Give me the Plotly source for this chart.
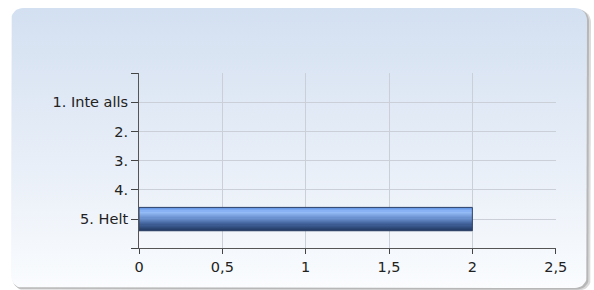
import numpy as np
import plotly.graph_objects as go

# ---- data ----
categories = ["1. Inte alls", "2.", "3.", "4.", "5. Helt"]
values = [0, 0, 0, 0, 2]
x_ticks = [0, 0.5, 1, 1.5, 2, 2.5]

W, H = 594, 290
PL, PR, PT, PB = 139, 555.7, 73, 248.3  # plot area in px

positions = list(range(1, len(categories) + 1))
outline_values = [v if v else None for v in values]


def rounded_rect(x0, y0, x1, y1, r, n=10):
    xs, ys = [], []
    corners = [(x1 - r, y0 + r, -90, 0), (x1 - r, y1 - r, 0, 90),
               (x0 + r, y1 - r, 90, 180), (x0 + r, y0 + r, 180, 270)]
    for cx, cy, a0, a1 in corners:
        for a in np.linspace(np.radians(a0), np.radians(a1), n):
            xs.append(cx + r * np.cos(a))
            ys.append(cy + r * np.sin(a))
    xs.append(xs[0]); ys.append(ys[0])
    return xs, ys


fig = go.Figure()

# shadow
sx, sy = rounded_rect(13, 10, 591, 290.5, 12)
fig.add_trace(go.Scatter(x=sx, y=sy, fill="toself", mode="lines",
                         line=dict(width=0), fillcolor="rgba(150,150,150,0.35)",
                         hoverinfo="skip", showlegend=False, xaxis="x", yaxis="y"))
sx, sy = rounded_rect(12, 9, 589, 289.5, 12)
fig.add_trace(go.Scatter(x=sx, y=sy, fill="toself", mode="lines",
                         line=dict(width=0), fillcolor="rgba(140,140,140,0.45)",
                         hoverinfo="skip", showlegend=False, xaxis="x", yaxis="y"))
# panel with gradient
px, py = rounded_rect(11, 8, 587, 288, 12)
fig.add_trace(go.Scatter(x=px, y=py, fill="toself", mode="lines",
                         line=dict(width=0),
                         fillgradient=dict(type="vertical",
                                           colorscale=[[0, "#fafcfe"], [0.5, "#e6edf7"], [1, "#d3e0f1"]]),
                         hoverinfo="skip", showlegend=False, xaxis="x", yaxis="y"))

# bar gradient strips
stops = [(0.0, (84, 138, 226)), (0.22, (150, 188, 247)), (0.45, (112, 150, 212)),
         (0.75, (62, 94, 150)), (1.0, (36, 60, 102))]


def grad(t):
    for (t0, c0), (t1, c1) in zip(stops[:-1], stops[1:]):
        if t0 <= t <= t1:
            f = (t - t0) / (t1 - t0)
            return "rgb(%d,%d,%d)" % tuple(round(a + (b - a) * f) for a, b in zip(c0, c1))
    return "rgb(%d,%d,%d)" % stops[-1][1]


N = 20
BW = 0.8
for i in range(N):
    fig.add_trace(go.Bar(x=values, y=positions, orientation="h",
                         width=BW / N + 0.01, offset=-BW / 2 + i * BW / N,
                         marker=dict(color=grad((i + 0.5) / N), line=dict(width=0)),
                         hoverinfo="skip", showlegend=False, xaxis="x2", yaxis="y2"))
fig.add_trace(go.Bar(x=outline_values, y=positions, orientation="h", width=BW, offset=-BW / 2,
                     marker=dict(color="rgba(0,0,0,0)", line=dict(width=1, color="#34466a")),
                     showlegend=False, xaxis="x2", yaxis="y2"))

font = dict(family="DejaVu Sans", size=14.5, color="#222222")

fig.update_layout(
    width=W, height=H, autosize=False,
    margin=dict(l=0, r=0, t=0, b=0, pad=0, autoexpand=False),
    paper_bgcolor="white", plot_bgcolor="rgba(0,0,0,0)",
    barmode="overlay", separators=",.",
    font=font,
    xaxis=dict(domain=[0, 1], range=[0, W], visible=False, fixedrange=True, automargin=False),
    yaxis=dict(domain=[0, 1], range=[H, 0], visible=False, fixedrange=True, automargin=False),
    xaxis2=dict(domain=[PL / W, PR / W], range=[0, 2.5], anchor="y2", automargin=False,
                tickvals=x_ticks, ticks="outside", ticklen=5, tickcolor="#444444",
                showline=True, linecolor="#555555", linewidth=1,
                showgrid=True, gridcolor="#cbd0d8", gridwidth=1, zeroline=False,
                tickfont=font),
    yaxis2=dict(domain=[1 - PB / H, 1 - PT / H], range=[6, 0], anchor="x2", automargin=False,
                tickvals=[0] + positions + [6], ticktext=[""] + categories + [""],
                ticks="outside", ticklen=7, tickcolor="#444444",
                showline=True, linecolor="#555555", linewidth=1,
                showgrid=True, gridcolor="#cbd0d8", gridwidth=1, zeroline=False,
                tickfont=font),
)

post = (
    "document.documentElement.style.margin='0';"
    "document.documentElement.style.overflow='hidden';"
    "document.body.style.margin='0';"
    "document.body.style.overflow='hidden';"
)
fig.write_html("out.html", post_script=post, config={"displayModeBar": False})
